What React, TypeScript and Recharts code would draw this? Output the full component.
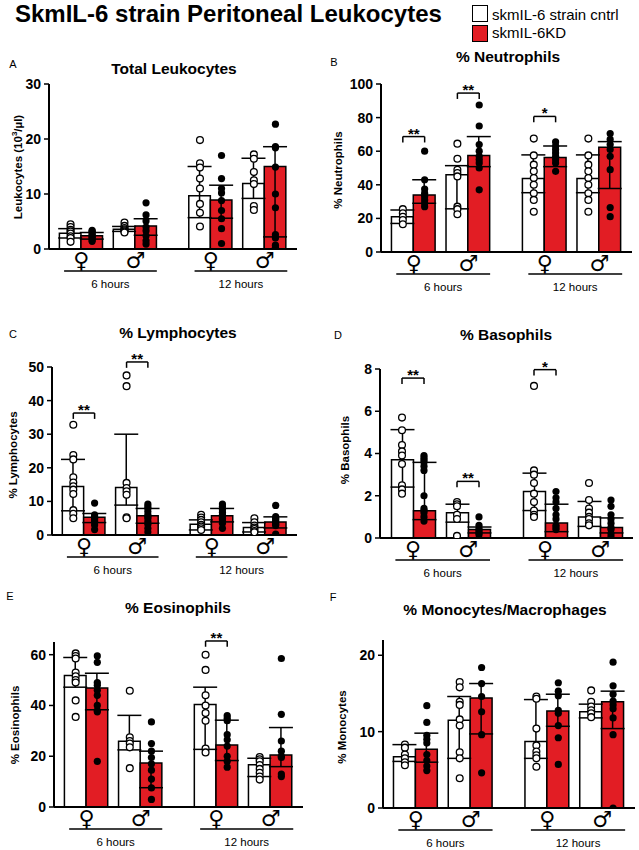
import React from 'react';
import { ComposedChart, Bar, ErrorBar, Scatter, XAxis, YAxis, ReferenceLine } from 'recharts';

const sexLabels = ['♀', '♂', '♀', '♂'];
const timeLabels = ['6 hours', '12 hours'];
const seriesNames = ['skmIL-6 strain cntrl', 'skmIL-6KD'];

// A: total leukocytes (10^3/µl)
const leukoCtrl = [2.85, 3.6, 9.7, 11.9];
const leukoKd = [2.4, 4.2, 8.9, 15.0];
const leukoCtrlRange = [[2.0, 3.7], [3.2, 4.1], [5.7, 15.0], [9.2, 16.5]];
const leukoKdRange = [[1.8, 3.0], [2.5, 5.5], [5.6, 11.6], [2.2, 18.6]];
const leukoCtrlDots = [
  [4.5, 4.0, 3.5, 3.2, 2.8, 2.3, 2.0, 1.3],
  [4.8, 4.2, 3.8, 3.6, 3.4, 3.2, 3.0],
  [19.8, 15.6, 14.8, 12.8, 11.0, 8.2, 6.6, 4.1],
  [17.2, 16.4, 14.0, 12.5, 11.8, 7.8, 7.1],
];
const leukoKdDots = [
  [3.4, 3.2, 3.0, 2.7, 2.4, 2.2, 2.0, 1.7, 1.4],
  [8.4, 6.2, 5.1, 4.0, 3.3, 2.4, 1.5, 0.9],
  [17.0, 12.8, 11.0, 10.2, 8.8, 7.0, 5.5, 3.7, 1.0],
  [22.7, 18.6, 18.4, 14.9, 10.0, 7.5, 2.6, 2.0, 0.7, 0.3],
];
const leukoSig: { group: number; y: number; text: string }[] = [];

// B: % neutrophils
const neutroCtrl = [21.0, 46.0, 43.8, 43.8];
const neutroKd = [34.0, 57.4, 56.2, 62.4];
const neutroCtrlRange = [[17.0, 25.0], [25.7, 51.4], [35.3, 57.8], [35.3, 57.8]];
const neutroKdRange = [[29.0, 43.0], [50.8, 68.7], [50.8, 63.1], [37.8, 65.7]];
const neutroCtrlDots = [
  [25.5, 23.0, 21.0, 19.0, 16.5],
  [64.5, 55.5, 49.0, 47.0, 45.0, 27.0, 25.5, 22.5],
  [67.5, 57.5, 52.0, 48.0, 44.0, 40.0, 35.0, 31.0, 24.0],
  [67.5, 57.5, 52.0, 48.0, 44.0, 40.0, 35.0, 31.0, 24.0],
];
const neutroKdDots = [
  [60.0, 43.0, 37.5, 35.0, 33.0, 31.0, 29.0, 27.0],
  [87.5, 75.0, 64.0, 60.0, 57.0, 55.0, 53.0, 50.0, 37.0],
  [65.5, 63.0, 61.0, 59.0, 57.0, 55.0, 53.0, 48.0],
  [70.5, 67.0, 64.0, 61.0, 57.0, 49.0, 26.5, 21.0],
];
const neutroSig = [
  { group: 0, y: 68.7, text: '**' },
  { group: 1, y: 94.6, text: '**' },
  { group: 2, y: 80.7, text: '*' },
];

// C: % lymphocytes
const lymphoCtrl = [14.4, 14.1, 3.2, 2.2];
const lymphoKd = [5.25, 5.7, 5.7, 3.9];
const lymphoCtrlRange = [[7.2, 22.5], [8.9, 30.0], [1.5, 4.5], [0.9, 3.7]];
const lymphoKdRange = [[3.7, 6.4], [3.5, 7.9], [3.9, 7.9], [2.1, 5.4]];
const lymphoCtrlDots = [
  [32.8, 23.8, 22.5, 17.2, 15.6, 14.5, 13.5, 12.2, 7.4, 6.3, 5.0],
  [47.5, 44.3, 15.5, 14.0, 13.0, 12.0, 5.3, 5.0],
  [6.0, 5.2, 4.5, 3.8, 3.0, 2.5, 2.0, 1.5],
  [5.0, 3.8, 2.8, 2.2, 1.8, 1.2, 0.8],
];
const lymphoKdDots = [
  [9.5, 6.0, 5.5, 5.0, 4.5, 4.0, 3.0, 1.6],
  [9.2, 8.5, 7.8, 7.0, 6.0, 5.5, 5.0, 4.0, 3.2, 2.0, 0.9],
  [9.2, 8.5, 7.5, 6.8, 6.0, 5.5, 5.0, 4.5, 3.5, 2.0],
  [8.8, 5.5, 5.0, 4.5, 4.0, 3.6, 3.2, 2.8, 0.3],
];
const lymphoSig = [
  { group: 0, y: 36.3, text: '**' },
  { group: 1, y: 51.5, text: '**' },
];

// D: % basophils
const basoCtrl = [3.7, 1.2, 2.2, 1.0];
const basoKd = [1.29, 0.4, 0.71, 0.5];
const basoCtrlRange = [[2.41, 5.13], [0.75, 1.6], [1.3, 3.07], [0.55, 1.73]];
const basoKdRange = [[0.87, 3.58], [0.24, 0.52], [0.3, 1.6], [0.24, 0.95]];
const basoCtrlDots = [
  [5.7, 5.1, 4.4, 4.1, 3.9, 3.5, 2.5, 2.3, 2.1],
  [1.7, 1.6, 1.5, 1.1, 0.9, 0.1],
  [7.2, 3.2, 3.0, 2.6, 2.1, 1.7, 1.3, 1.1, 1.0],
  [2.6, 1.8, 1.4, 1.2, 1.0, 0.9, 0.7, 0.6],
];
const basoKdDots = [
  [3.9, 3.8, 3.7, 3.6, 3.4, 3.2, 2.0, 1.4, 1.3, 1.2, 1.0, 0.8],
  [1.0, 0.6, 0.45, 0.35, 0.25, 0.15],
  [2.2, 1.9, 1.7, 1.4, 1.1, 0.9, 0.6, 0.5, 0.4],
  [1.8, 1.5, 1.1, 0.9, 0.7, 0.5, 0.4, 0.2, 0.05],
];
const basoSig = [
  { group: 0, y: 7.57, text: '**' },
  { group: 1, y: 2.68, text: '**' },
  { group: 2, y: 7.97, text: '*' },
];

// E: % eosinophils
const eosinoCtrl = [51.8, 25.9, 40.4, 16.6];
const eosinoKd = [46.9, 17.3, 24.4, 20.5];
const eosinoCtrlRange = [[47.2, 58.9], [22.5, 36.1], [22.7, 47.2], [12.0, 19.2]];
const eosinoKdRange = [[38.3, 52.7], [7.6, 22.0], [18.3, 34.2], [15.9, 31.3]];
const eosinoCtrlDots = [
  [60.5, 59.5, 58.5, 53.0, 51.5, 50.0, 49.0, 42.0, 35.5],
  [45.8, 27.5, 26.0, 25.0, 23.5, 15.3],
  [60.0, 54.0, 44.0, 40.0, 37.0, 34.0, 23.0, 21.5],
  [19.7, 18.8, 18.0, 16.5, 15.0, 13.5, 12.0, 10.8],
];
const eosinoKdDots = [
  [59.5, 57.0, 49.0, 48.0, 46.0, 44.0, 40.0, 38.0, 37.5, 18.0],
  [33.5, 25.0, 22.0, 19.5, 17.0, 14.5, 11.0, 7.5, 3.0],
  [36.0, 35.0, 34.0, 28.5, 26.5, 24.0, 20.0, 18.0, 15.7],
  [58.5, 36.5, 26.0, 22.0, 20.0, 19.5, 13.0, 12.0],
];
const eosinoSig = [{ group: 2, y: 65.4, text: '**' }];

// F: % monocytes/macrophages
const monoCtrl = [6.7, 11.5, 8.7, 12.6];
const monoKd = [7.7, 14.4, 12.7, 13.9];
const monoCtrlRange = [[6.1, 8.3], [6.5, 14.6], [6.5, 14.2], [11.8, 13.6]];
const monoKdRange = [[6.0, 9.8], [9.7, 16.3], [10.7, 14.9], [10.4, 15.3]];
const monoCtrlDots = [
  [8.3, 7.9, 7.0, 6.5, 6.0, 5.6],
  [16.5, 15.8, 13.9, 13.5, 11.6, 10.8, 7.3, 6.5, 3.9],
  [14.6, 14.3, 10.4, 8.2, 7.4, 6.9, 6.5, 5.4],
  [15.4, 13.9, 13.3, 12.8, 12.4, 11.9],
];
const monoKdDots = [
  [13.4, 11.2, 9.5, 9.0, 8.5, 7.0, 6.2, 5.5, 4.9],
  [18.4, 16.3, 14.6, 12.6, 9.6, 4.6],
  [16.4, 15.3, 14.7, 12.8, 12.4, 10.8, 9.2, 5.7],
  [19.1, 16.0, 14.9, 14.0, 13.5, 13.0, 11.8, 9.6, 0.0],
];
const monoSig: { group: number; y: number; text: string }[] = [];

// layout of the x axis: group centres, axis length, time-group label centres
const SLOT = [1.5, 4, 7.5, 10];
const X_MAX = 11.5;
const TIME_CENTERS = [2.85, 8.9];
const TIME_HALF = 2.15;

const RED = '#e21d24';
const FONT = '"Liberation Sans", Arial, Helvetica, sans-serif';

function SexTick(props: any) {
  const { x, y, payload } = props;
  const i = SLOT.indexOf(payload.value);
  return (
    <text x={x} y={y + 11} textAnchor="middle" dominantBaseline="central"
      fontFamily='"DejaVu Sans", sans-serif' fontWeight={700} fontSize={22} fill="#000">
      {sexLabels[i]}
    </text>
  );
}

function TimeTick(props: any) {
  const { x, y, payload, half } = props;
  const i = TIME_CENTERS.indexOf(payload.value);
  return (
    <g>
      <line x1={x - half} x2={x + half} y1={y} y2={y} stroke="#000" strokeWidth={1.5} />
      <text x={x} y={y + 13} textAnchor="middle" dominantBaseline="central"
        fontFamily={FONT} fontSize={11.5} fill="#000">
        {timeLabels[i]}
      </text>
    </g>
  );
}

const openDot = (p: any) => <circle cx={p.cx} cy={p.cy} r={3.4} fill="#fff" stroke="#000" strokeWidth={1.3} />;
const solidDot = (p: any) => <circle cx={p.cx} cy={p.cy} r={3.6} fill="#000" />;

interface PanelProps {
  letter: string;
  title: string;
  yLabel: React.ReactNode;
  ctrl: number[];
  kd: number[];
  ctrlRange: number[][];
  kdRange: number[][];
  ctrlDots: number[][];
  kdDots: number[][];
  sig: { group: number; y: number; text: string }[];
  yMax: number;
  yTicks: number[];
  box: { axisX: number; top: number; bottom: number; right: number };
  letterPos: [number, number];
  titlePos: [number, number];
  yLabelPos: [number, number];
}

function Panel(p: PanelProps) {
  const { axisX, top, bottom, right } = p.box;
  const yW = 36, mL = 4, mT = 16, mR = 6, ax1 = 22, ax2 = 30;
  const width = right - axisX + yW + mL + mR;
  const height = bottom - top + mT + ax1 + ax2;
  const unit = (right - axisX) / X_MAX;
  const drop = p.yMax * 0.035;

  const rows = SLOT.map((x, i) => ({
    x,
    ctrl: p.ctrl[i],
    kd: p.kd[i],
    ctrlErr: [p.ctrl[i] - p.ctrlRange[i][0], p.ctrlRange[i][1] - p.ctrl[i]],
    kdErr: [p.kd[i] - p.kdRange[i][0], p.kdRange[i][1] - p.kd[i]],
  }));
  const ctrlPts = p.ctrlDots.flatMap((vals, i) => vals.map((y) => ({ x: SLOT[i] - 0.5, y })));
  const kdPts = p.kdDots.flatMap((vals, i) => vals.map((y) => ({ x: SLOT[i] + 0.5, y })));

  const textStyle: React.CSSProperties = { position: 'absolute', whiteSpace: 'nowrap', fontFamily: FONT, color: '#000' };

  return (
    <>
      <div style={{ ...textStyle, left: p.letterPos[0], top: p.letterPos[1], transform: 'translate(-50%, -50%)', fontSize: 11 }}>
        {p.letter}
      </div>
      <div style={{ ...textStyle, left: p.titlePos[0], top: p.titlePos[1], transform: 'translate(-50%, -50%)', fontSize: 15.5, fontWeight: 700 }}>
        {p.title}
      </div>
      <div style={{ ...textStyle, left: p.yLabelPos[0], top: p.yLabelPos[1], transform: 'translate(-50%, -50%) rotate(-90deg)', fontSize: 11.5, fontWeight: 700 }}>
        {p.yLabel}
      </div>
      <div style={{ position: 'absolute', left: axisX - yW - mL, top: top - mT }}>
        <ComposedChart width={width} height={height} data={rows} barGap={0}
          margin={{ top: mT, right: mR, bottom: 0, left: mL }}>
          <XAxis xAxisId="bar" dataKey="x" type="number" domain={[0, X_MAX]} allowDataOverflow
            ticks={SLOT} interval={0} height={ax1} tickSize={0} tickMargin={0} tickLine={false}
            axisLine={{ stroke: '#000', strokeWidth: 2 }} tick={<SexTick />} />
          <XAxis xAxisId="time" dataKey="x" type="number" domain={[0, X_MAX]} allowDataOverflow
            ticks={TIME_CENTERS} interval={0} height={ax2} tickSize={0} tickMargin={0} tickLine={false}
            axisLine={false} tick={<TimeTick half={TIME_HALF * unit} />} />
          <XAxis xAxisId="pt" dataKey="x" type="number" domain={[0, X_MAX]} allowDataOverflow hide height={0} />
          <YAxis type="number" domain={[0, p.yMax]} allowDataOverflow ticks={p.yTicks} interval={0}
            width={yW} tickSize={5} tickMargin={3}
            tick={{ fill: '#000', fontSize: 14, fontWeight: 700, fontFamily: FONT }}
            tickLine={{ stroke: '#000', strokeWidth: 1.5 }}
            axisLine={{ stroke: '#000', strokeWidth: 2 }} />
          <Bar xAxisId="bar" dataKey="ctrl" barSize={unit} fill="#fff" stroke="#000" strokeWidth={1.5} isAnimationActive={false}>
            <ErrorBar dataKey="ctrlErr" direction="y" width={12} stroke="#000" strokeWidth={1.5} />
          </Bar>
          <Bar xAxisId="bar" dataKey="kd" barSize={unit} fill={RED} stroke="#000" strokeWidth={1.5} isAnimationActive={false}>
            <ErrorBar dataKey="kdErr" direction="y" width={12} stroke="#000" strokeWidth={1.5} />
          </Bar>
          <Scatter xAxisId="pt" data={ctrlPts} dataKey="y" shape={openDot} isAnimationActive={false} />
          <Scatter xAxisId="pt" data={kdPts} dataKey="y" shape={solidDot} isAnimationActive={false} />
          {p.sig.map((s, k) => {
            const x1 = SLOT[s.group] - 0.5;
            const x2 = SLOT[s.group] + 0.5;
            return (
              <React.Fragment key={k}>
                <ReferenceLine xAxisId="bar" ifOverflow="visible" stroke="#000" strokeWidth={1.5}
                  segment={[{ x: x1, y: s.y }, { x: x2, y: s.y }]}
                  label={{ value: s.text, position: 'top', offset: -2, fill: '#000', fontSize: 15, fontWeight: 700, fontFamily: FONT }} />
                <ReferenceLine xAxisId="bar" ifOverflow="visible" stroke="#000" strokeWidth={1.5}
                  segment={[{ x: x1, y: s.y }, { x: x1, y: s.y - drop }]} />
                <ReferenceLine xAxisId="bar" ifOverflow="visible" stroke="#000" strokeWidth={1.5}
                  segment={[{ x: x2, y: s.y }, { x: x2, y: s.y - drop }]} />
              </React.Fragment>
            );
          })}
        </ComposedChart>
      </div>
    </>
  );
}

const panels: PanelProps[] = [
  {
    letter: 'A', title: 'Total Leukocytes',
    yLabel: <span>Leukocytes (10<sup style={{ fontSize: 8 }}>3</sup>/µl)</span>,
    ctrl: leukoCtrl, kd: leukoKd, ctrlRange: leukoCtrlRange, kdRange: leukoKdRange,
    ctrlDots: leukoCtrlDots, kdDots: leukoKdDots, sig: leukoSig,
    yMax: 30, yTicks: [0, 10, 20, 30],
    box: { axisX: 49, top: 84, bottom: 249, right: 297 },
    letterPos: [13, 64], titlePos: [174, 69], yLabelPos: [17, 167],
  },
  {
    letter: 'B', title: '% Neutrophils', yLabel: '% Neutrophils',
    ctrl: neutroCtrl, kd: neutroKd, ctrlRange: neutroCtrlRange, kdRange: neutroKdRange,
    ctrlDots: neutroCtrlDots, kdDots: neutroKdDots, sig: neutroSig,
    yMax: 100, yTicks: [0, 20, 40, 60, 80, 100],
    box: { axisX: 381, top: 84, bottom: 252, right: 632 },
    letterPos: [334, 62], titlePos: [508, 57], yLabelPos: [338, 170],
  },
  {
    letter: 'C', title: '% Lymphocytes', yLabel: '% Lymphocytes',
    ctrl: lymphoCtrl, kd: lymphoKd, ctrlRange: lymphoCtrlRange, kdRange: lymphoKdRange,
    ctrlDots: lymphoCtrlDots, kdDots: lymphoKdDots, sig: lymphoSig,
    yMax: 50, yTicks: [0, 10, 20, 30, 40, 50],
    box: { axisX: 52, top: 367, bottom: 535, right: 297 },
    letterPos: [13, 334], titlePos: [178, 333], yLabelPos: [13, 455],
  },
  {
    letter: 'D', title: '% Basophils', yLabel: '% Basophils',
    ctrl: basoCtrl, kd: basoKd, ctrlRange: basoCtrlRange, kdRange: basoKdRange,
    ctrlDots: basoCtrlDots, kdDots: basoKdDots, sig: basoSig,
    yMax: 8, yTicks: [0, 2, 4, 6, 8],
    box: { axisX: 380, top: 369, bottom: 538, right: 633 },
    letterPos: [338, 335], titlePos: [506, 335], yLabelPos: [345, 450],
  },
  {
    letter: 'E', title: '% Eosinophils', yLabel: '% Eosinophils',
    ctrl: eosinoCtrl, kd: eosinoKd, ctrlRange: eosinoCtrlRange, kdRange: eosinoKdRange,
    ctrlDots: eosinoCtrlDots, kdDots: eosinoKdDots, sig: eosinoSig,
    yMax: 65, yTicks: [0, 20, 40, 60],
    box: { axisX: 54, top: 642, bottom: 807, right: 303 },
    letterPos: [10, 596], titlePos: [178, 608], yLabelPos: [15, 725],
  },
  {
    letter: 'F', title: '% Monocytes/Macrophages', yLabel: '% Monocytes',
    ctrl: monoCtrl, kd: monoKd, ctrlRange: monoCtrlRange, kdRange: monoKdRange,
    ctrlDots: monoCtrlDots, kdDots: monoKdDots, sig: monoSig,
    yMax: 22, yTicks: [0, 10, 20],
    box: { axisX: 383, top: 640, bottom: 808, right: 635 },
    letterPos: [333, 597], titlePos: [505, 610], yLabelPos: [342, 727],
  },
];

export default function App() {
  return (
    <div style={{ position: 'absolute', left: 0, top: 0, width: 639, height: 850, background: '#fff', overflow: 'hidden', fontFamily: FONT }}>
      <div style={{ position: 'absolute', left: 15, top: 0, fontSize: 24, fontWeight: 700, lineHeight: '28px', whiteSpace: 'nowrap' }}>
        SkmIL-6 strain Peritoneal Leukocytes
      </div>
      <div style={{ position: 'absolute', left: 472, top: 5, width: 14, height: 15, border: '1.5px solid #000', background: '#fff' }} />
      <div style={{ position: 'absolute', left: 472, top: 25, width: 14, height: 15, border: '1.5px solid #000', background: RED }} />
      <div style={{ position: 'absolute', left: 492, top: 6, fontSize: 15, lineHeight: '18px', whiteSpace: 'nowrap' }}>{seriesNames[0]}</div>
      <div style={{ position: 'absolute', left: 492, top: 24, fontSize: 15, lineHeight: '18px', whiteSpace: 'nowrap' }}>{seriesNames[1]}</div>
      {panels.map((p) => (
        <Panel key={p.letter} {...p} />
      ))}
    </div>
  );
}
